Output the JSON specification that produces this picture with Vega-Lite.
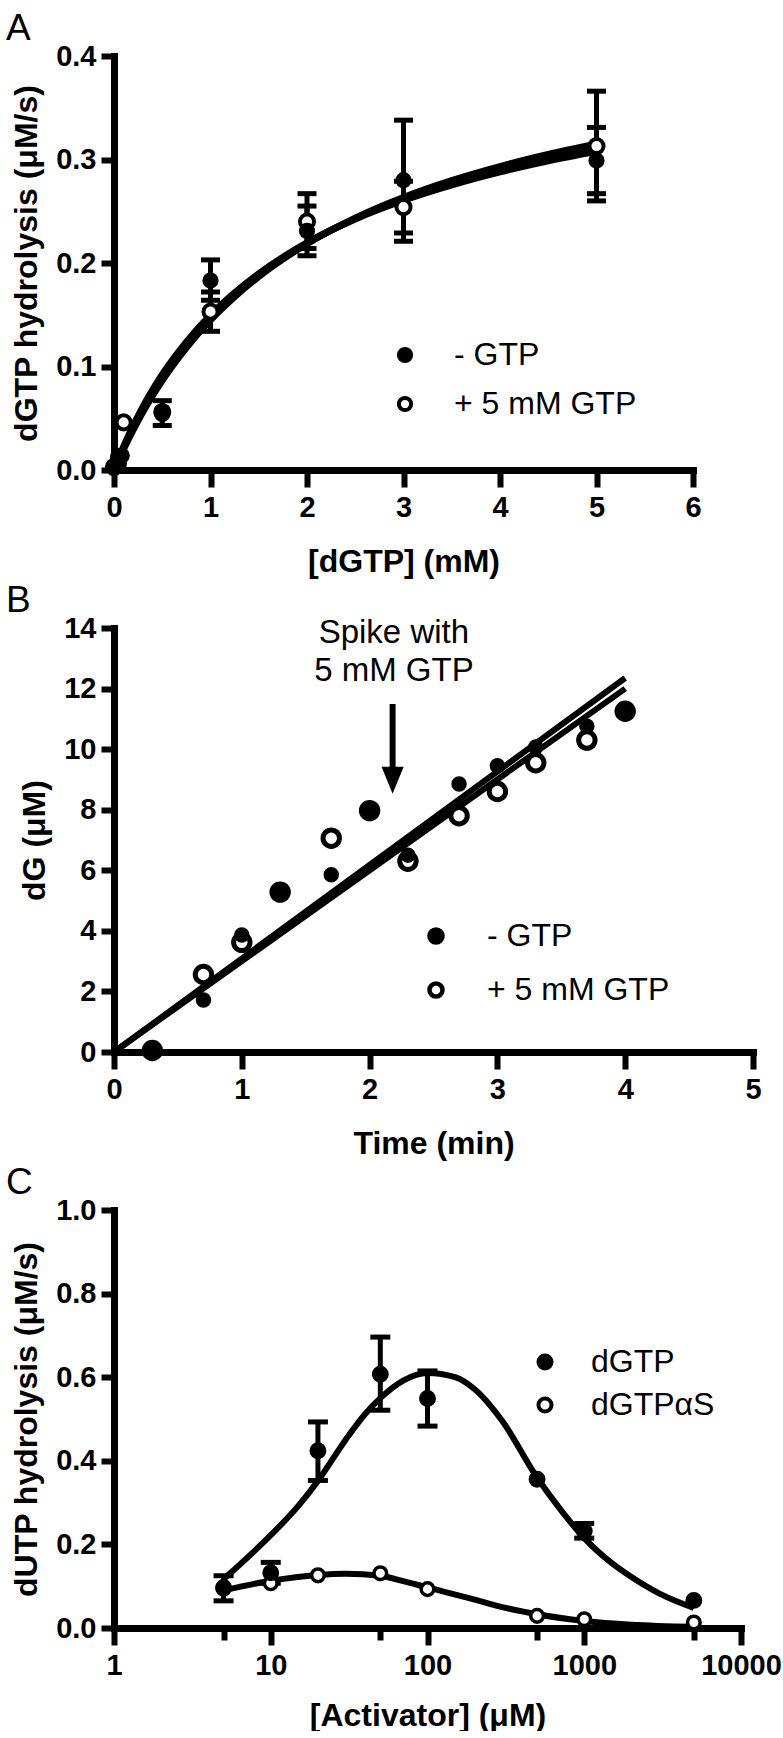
{
  "$schema": "https://vega.github.io/schema/vega-lite/v6.json",
  "background": "white",
  "padding": {"left": 6, "top": 10, "right": 0, "bottom": 0},
  "bounds": "flush",
  "spacing": 158,
  "datasets": {
    "A_pts": [
      {"dGTP": 0, "rate": 0.003, "series": "+ 5 mM GTP"},
      {"dGTP": 0.05, "rate": 0.012, "series": "+ 5 mM GTP"},
      {"dGTP": 0.1, "rate": 0.046, "series": "+ 5 mM GTP"},
      {"dGTP": 0.5, "rate": 0.056, "series": "+ 5 mM GTP"},
      {"dGTP": 1, "rate": 0.153, "series": "+ 5 mM GTP"},
      {"dGTP": 2, "rate": 0.24, "series": "+ 5 mM GTP"},
      {"dGTP": 3, "rate": 0.254, "series": "+ 5 mM GTP"},
      {"dGTP": 5, "rate": 0.313, "series": "+ 5 mM GTP"},
      {"dGTP": 0, "rate": 0.002, "series": "- GTP"},
      {"dGTP": 0.05, "rate": 0.006, "series": "- GTP"},
      {"dGTP": 0.08, "rate": 0.014, "series": "- GTP"},
      {"dGTP": 0.5, "rate": 0.054, "series": "- GTP"},
      {"dGTP": 1, "rate": 0.183, "series": "- GTP"},
      {"dGTP": 2, "rate": 0.231, "series": "- GTP"},
      {"dGTP": 3, "rate": 0.28, "series": "- GTP"},
      {"dGTP": 5, "rate": 0.299, "series": "- GTP"}
    ],
    "A_err": [
      {"dGTP": 0.5, "lo": 0.043, "hi": 0.067},
      {"dGTP": 1, "lo": 0.164, "hi": 0.203},
      {"dGTP": 1, "lo": 0.134, "hi": 0.172},
      {"dGTP": 2, "lo": 0.207, "hi": 0.255},
      {"dGTP": 2, "lo": 0.214, "hi": 0.267},
      {"dGTP": 3, "lo": 0.221, "hi": 0.338},
      {"dGTP": 3, "lo": 0.229, "hi": 0.279},
      {"dGTP": 5, "lo": 0.267, "hi": 0.331},
      {"dGTP": 5, "lo": 0.26, "hi": 0.366}
    ],
    "A_fit": [
      {"dGTP": 0, "rate": 0, "fit": "a"},
      {"dGTP": 0.1, "rate": 0.0205, "fit": "a"},
      {"dGTP": 0.25, "rate": 0.048, "fit": "a"},
      {"dGTP": 0.5, "rate": 0.0866, "fit": "a"},
      {"dGTP": 0.75, "rate": 0.1183, "fit": "a"},
      {"dGTP": 1, "rate": 0.145, "fit": "a"},
      {"dGTP": 1.25, "rate": 0.1675, "fit": "a"},
      {"dGTP": 1.5, "rate": 0.187, "fit": "a"},
      {"dGTP": 2, "rate": 0.2187, "fit": "a"},
      {"dGTP": 2.5, "rate": 0.2434, "fit": "a"},
      {"dGTP": 3, "rate": 0.2633, "fit": "a"},
      {"dGTP": 3.5, "rate": 0.2796, "fit": "a"},
      {"dGTP": 4, "rate": 0.2932, "fit": "a"},
      {"dGTP": 4.5, "rate": 0.3048, "fit": "a"},
      {"dGTP": 5, "rate": 0.3147, "fit": "a"},
      {"dGTP": 0, "rate": 0, "fit": "b"},
      {"dGTP": 0.1, "rate": 0.0225, "fit": "b"},
      {"dGTP": 0.25, "rate": 0.052, "fit": "b"},
      {"dGTP": 0.5, "rate": 0.092, "fit": "b"},
      {"dGTP": 0.75, "rate": 0.1235, "fit": "b"},
      {"dGTP": 1, "rate": 0.1495, "fit": "b"},
      {"dGTP": 1.25, "rate": 0.171, "fit": "b"},
      {"dGTP": 1.5, "rate": 0.1895, "fit": "b"},
      {"dGTP": 2, "rate": 0.2195, "fit": "b"},
      {"dGTP": 2.5, "rate": 0.2425, "fit": "b"},
      {"dGTP": 3, "rate": 0.2606, "fit": "b"},
      {"dGTP": 3.5, "rate": 0.2755, "fit": "b"},
      {"dGTP": 4, "rate": 0.2881, "fit": "b"},
      {"dGTP": 4.5, "rate": 0.2988, "fit": "b"},
      {"dGTP": 5, "rate": 0.308, "fit": "b"}
    ],
    "B_pts": [
      {"time": 0.3, "dG": 0.05, "series": "+ 5 mM GTP"},
      {"time": 0.7, "dG": 2.56, "series": "+ 5 mM GTP"},
      {"time": 1.0, "dG": 3.62, "series": "+ 5 mM GTP"},
      {"time": 1.3, "dG": 5.28, "series": "+ 5 mM GTP"},
      {"time": 1.7, "dG": 7.06, "series": "+ 5 mM GTP"},
      {"time": 2.0, "dG": 7.97, "series": "+ 5 mM GTP"},
      {"time": 2.3, "dG": 6.3, "series": "+ 5 mM GTP"},
      {"time": 2.7, "dG": 7.8, "series": "+ 5 mM GTP"},
      {"time": 3.0, "dG": 8.6, "series": "+ 5 mM GTP"},
      {"time": 3.3, "dG": 9.55, "series": "+ 5 mM GTP"},
      {"time": 3.7, "dG": 10.3, "series": "+ 5 mM GTP"},
      {"time": 4.0, "dG": 11.25, "series": "+ 5 mM GTP"},
      {"time": 0.3, "dG": 0.05, "series": "- GTP"},
      {"time": 0.7, "dG": 1.72, "series": "- GTP"},
      {"time": 1.0, "dG": 3.86, "series": "- GTP"},
      {"time": 1.3, "dG": 5.28, "series": "- GTP"},
      {"time": 1.7, "dG": 5.85, "series": "- GTP"},
      {"time": 2.0, "dG": 7.97, "series": "- GTP"},
      {"time": 2.3, "dG": 6.5, "series": "- GTP"},
      {"time": 2.7, "dG": 8.85, "series": "- GTP"},
      {"time": 3.0, "dG": 9.45, "series": "- GTP"},
      {"time": 3.3, "dG": 10.07, "series": "- GTP"},
      {"time": 3.7, "dG": 10.76, "series": "- GTP"},
      {"time": 4.0, "dG": 11.25, "series": "- GTP"}
    ],
    "B_fit": [
      {"time": 0, "dG": 0, "fit": "a"},
      {"time": 4, "dG": 12.35, "fit": "a"},
      {"time": 0, "dG": 0, "fit": "b"},
      {"time": 4, "dG": 12.0, "fit": "b"}
    ],
    "B_arrow": [
      {"time": 2.18, "top": 11.49, "bottom": 9.2, "tip": 8.97}
    ],
    "B_note": [
      {"time": 2.19, "dG": 13.5, "label": "Spike with"},
      {"time": 2.19, "dG": 12.25, "label": "5 mM GTP"}
    ],
    "C_pts": [
      {"conc": 5, "rate": 0.098, "series": "dGTPαS"},
      {"conc": 10, "rate": 0.107, "series": "dGTPαS"},
      {"conc": 20, "rate": 0.126, "series": "dGTPαS"},
      {"conc": 50, "rate": 0.131, "series": "dGTPαS"},
      {"conc": 100, "rate": 0.093, "series": "dGTPαS"},
      {"conc": 500, "rate": 0.029, "series": "dGTPαS"},
      {"conc": 1000, "rate": 0.021, "series": "dGTPαS"},
      {"conc": 5000, "rate": 0.013, "series": "dGTPαS"},
      {"conc": 5, "rate": 0.095, "series": "dGTP"},
      {"conc": 10, "rate": 0.132, "series": "dGTP"},
      {"conc": 20, "rate": 0.424, "series": "dGTP"},
      {"conc": 50, "rate": 0.607, "series": "dGTP"},
      {"conc": 100, "rate": 0.549, "series": "dGTP"},
      {"conc": 500, "rate": 0.356, "series": "dGTP"},
      {"conc": 1000, "rate": 0.232, "series": "dGTP"},
      {"conc": 5000, "rate": 0.066, "series": "dGTP"}
    ],
    "C_err": [
      {"conc": 5, "lo": 0.065, "hi": 0.125},
      {"conc": 10, "lo": 0.107, "hi": 0.157},
      {"conc": 20, "lo": 0.353, "hi": 0.493},
      {"conc": 50, "lo": 0.521, "hi": 0.696},
      {"conc": 100, "lo": 0.483, "hi": 0.615},
      {"conc": 1000, "lo": 0.215, "hi": 0.25}
    ],
    "C_fit": [
      {"conc": 5, "rate": 0.117, "fit": "a"},
      {"conc": 10, "rate": 0.222, "fit": "a"},
      {"conc": 15, "rate": 0.292, "fit": "a"},
      {"conc": 20, "rate": 0.352, "fit": "a"},
      {"conc": 30, "rate": 0.45, "fit": "a"},
      {"conc": 40, "rate": 0.512, "fit": "a"},
      {"conc": 50, "rate": 0.55, "fit": "a"},
      {"conc": 70, "rate": 0.592, "fit": "a"},
      {"conc": 100, "rate": 0.61, "fit": "a"},
      {"conc": 150, "rate": 0.6, "fit": "a"},
      {"conc": 200, "rate": 0.571, "fit": "a"},
      {"conc": 300, "rate": 0.495, "fit": "a"},
      {"conc": 500, "rate": 0.36, "fit": "a"},
      {"conc": 700, "rate": 0.285, "fit": "a"},
      {"conc": 1000, "rate": 0.215, "fit": "a"},
      {"conc": 1500, "rate": 0.155, "fit": "a"},
      {"conc": 2000, "rate": 0.122, "fit": "a"},
      {"conc": 3000, "rate": 0.083, "fit": "a"},
      {"conc": 5000, "rate": 0.048, "fit": "a"},
      {"conc": 5, "rate": 0.09, "fit": "b"},
      {"conc": 10, "rate": 0.113, "fit": "b"},
      {"conc": 20, "rate": 0.127, "fit": "b"},
      {"conc": 30, "rate": 0.13, "fit": "b"},
      {"conc": 50, "rate": 0.125, "fit": "b"},
      {"conc": 70, "rate": 0.112, "fit": "b"},
      {"conc": 100, "rate": 0.097, "fit": "b"},
      {"conc": 200, "rate": 0.068, "fit": "b"},
      {"conc": 300, "rate": 0.05, "fit": "b"},
      {"conc": 500, "rate": 0.033, "fit": "b"},
      {"conc": 1000, "rate": 0.017, "fit": "b"},
      {"conc": 2000, "rate": 0.008, "fit": "b"},
      {"conc": 5000, "rate": 0.003, "fit": "b"}
    ]
  },
  "vconcat": [
    {
      "width": 579,
      "height": 414,
      "title": {"text": "A"},
      "encoding": {
        "x": {"field": "dGTP", "type": "quantitative", "title": "[dGTP] (mM)",
              "scale": {"domain": [0, 6], "nice": false, "zero": false},
              "axis": {"values": [0, 1, 2, 3, 4, 5, 6], "format": "d"}}
      },
      "layer": [
        {
          "data": {"name": "A_err"},
          "mark": {"type": "rule", "strokeWidth": 5, "color": "black"},
          "encoding": {
            "y": {"field": "lo", "type": "quantitative", "title": "dGTP hydrolysis (μM/s)",
                  "scale": {"domain": [0, 0.4], "nice": false},
                  "axis": {"values": [0, 0.1, 0.2, 0.3, 0.4], "format": ".1f"}},
            "y2": {"field": "hi"}
          }
        },
        {
          "data": {"name": "A_err"},
          "mark": {"type": "tick", "orient": "horizontal", "size": 19, "thickness": 5, "color": "black", "opacity": 1},
          "encoding": {"y": {"field": "hi", "type": "quantitative", "title": "dGTP hydrolysis (μM/s)"}}
        },
        {
          "data": {"name": "A_err"},
          "mark": {"type": "tick", "orient": "horizontal", "size": 19, "thickness": 5, "color": "black", "opacity": 1},
          "encoding": {"y": {"field": "lo", "type": "quantitative", "title": "dGTP hydrolysis (μM/s)"}}
        },
        {
          "data": {"name": "A_fit"},
          "mark": {"type": "line", "strokeWidth": 7, "color": "black", "interpolate": "monotone"},
          "encoding": {
            "y": {"field": "rate", "type": "quantitative", "title": "dGTP hydrolysis (μM/s)"},
            "detail": {"field": "fit"}
          }
        },
        {
          "data": {"name": "A_pts"},
          "transform": [{"filter": "datum.series == '+ 5 mM GTP'"}],
          "mark": {"type": "point", "filled": false, "stroke": "black", "strokeWidth": 4, "opacity": 1, "shape": "circle", "size": 200},
          "encoding": {
            "y": {"field": "rate", "type": "quantitative", "title": "dGTP hydrolysis (μM/s)"},
            "fill": {"field": "series", "type": "nominal",
                     "scale": {"domain": ["- GTP", "+ 5 mM GTP"], "range": ["black", "white"]},
                     "legend": {"orient": "none", "legendX": 275, "legendY": 283, "title": null, "rowPadding": 17, "labelOffset": 33,
                                "symbolSize": 150, "symbolStrokeColor": "black", "symbolStrokeWidth": 4,
                                "encode": {"symbols": {"update": {"stroke": {"value": "black"}, "strokeWidth": {"value": 4}}}}}}
          }
        },
        {
          "data": {"name": "A_pts"},
          "transform": [{"filter": "datum.series == '- GTP'"}],
          "mark": {"type": "point", "filled": false, "stroke": "black", "strokeWidth": 4, "opacity": 1, "shape": "circle", "size": 150},
          "encoding": {
            "y": {"field": "rate", "type": "quantitative", "title": "dGTP hydrolysis (μM/s)"},
            "fill": {"field": "series", "type": "nominal"}
          }
        }
      ]
    },
    {
      "width": 639,
      "height": 424,
      "title": {"text": "B"},
      "encoding": {
        "x": {"field": "time", "type": "quantitative", "title": "Time (min)",
              "scale": {"domain": [0, 5], "nice": false, "zero": false},
              "axis": {"values": [0, 1, 2, 3, 4, 5], "format": "d"}}
      },
      "layer": [
        {
          "data": {"name": "B_fit"},
          "mark": {"type": "line", "strokeWidth": 6, "color": "black"},
          "encoding": {
            "y": {"field": "dG", "type": "quantitative", "title": "dG (μM)",
                  "scale": {"domain": [0, 14], "nice": false},
                  "axis": {"values": [0, 2, 4, 6, 8, 10, 12, 14], "format": "d"}},
            "detail": {"field": "fit"}
          }
        },
        {
          "data": {"name": "B_arrow"},
          "mark": {"type": "rule", "strokeWidth": 6, "color": "black"},
          "encoding": {
            "y": {"field": "top", "type": "quantitative", "title": "dG (μM)"},
            "y2": {"field": "bottom"}
          }
        },
        {
          "data": {"name": "B_arrow"},
          "mark": {"type": "point", "shape": "M-0.82,-1L0.82,-1L0,1Z", "size": 729, "filled": true, "color": "black", "opacity": 1, "strokeWidth": 0},
          "encoding": {
            "y": {"field": "tip", "type": "quantitative", "title": "dG (μM)"}
          }
        },
        {
          "data": {"name": "B_note"},
          "mark": {"type": "text", "fontSize": 33, "font": "Liberation Sans", "align": "center", "baseline": "alphabetic", "color": "black"},
          "encoding": {
            "y": {"field": "dG", "type": "quantitative", "title": "dG (μM)"},
            "text": {"field": "label"}
          }
        },
        {
          "data": {"name": "B_pts"},
          "transform": [{"filter": "datum.series == '+ 5 mM GTP'"}],
          "mark": {"type": "point", "filled": false, "stroke": "black", "strokeWidth": 5, "opacity": 1, "shape": "circle", "size": 270},
          "encoding": {
            "y": {"field": "dG", "type": "quantitative", "title": "dG (μM)"},
            "fill": {"field": "series", "type": "nominal",
                     "scale": {"domain": ["- GTP", "+ 5 mM GTP"], "range": ["black", "white"]},
                     "legend": {"orient": "none", "legendX": 306, "legendY": 292, "title": null, "rowPadding": 22, "labelOffset": 35,
                                "symbolSize": 170, "symbolStrokeColor": "black", "symbolStrokeWidth": 4.5,
                                "encode": {"symbols": {"update": {"stroke": {"value": "black"}, "strokeWidth": {"value": 4.5}}}}}}
          }
        },
        {
          "data": {"name": "B_pts"},
          "transform": [{"filter": "datum.series == '- GTP'"}],
          "mark": {"type": "point", "filled": false, "stroke": "black", "strokeWidth": 5, "opacity": 1, "shape": "circle", "size": 110},
          "encoding": {
            "y": {"field": "dG", "type": "quantitative", "title": "dG (μM)"},
            "fill": {"field": "series", "type": "nominal"}
          }
        }
      ]
    },
    {
      "width": 627,
      "height": 418,
      "title": {"text": "C"},
      "encoding": {
        "x": {"field": "conc", "type": "quantitative", "title": "[Activator] (μM)",
              "scale": {"type": "log", "domain": [1, 10000], "nice": false},
              "axis": {"values": [1, 5, 10, 50, 100, 500, 1000, 5000, 10000], "labelOverlap": false, "titlePadding": 20,
                       "labelExpr": "(datum.value == 1 || datum.value == 10 || datum.value == 100 || datum.value == 1000 || datum.value == 10000) ? format(datum.value, 'd') : ''",
                       "tickSize": {"condition": {"test": "datum.value == 5 || datum.value == 50 || datum.value == 500 || datum.value == 5000", "value": 12}, "value": 17}}}
      },
      "layer": [
        {
          "data": {"name": "C_err"},
          "mark": {"type": "rule", "strokeWidth": 5, "color": "black"},
          "encoding": {
            "y": {"field": "lo", "type": "quantitative", "title": "dUTP hydrolysis (μM/s)",
                  "scale": {"domain": [0, 1], "nice": false},
                  "axis": {"values": [0, 0.2, 0.4, 0.6, 0.8, 1.0], "format": ".1f"}},
            "y2": {"field": "hi"}
          }
        },
        {
          "data": {"name": "C_err"},
          "mark": {"type": "tick", "orient": "horizontal", "size": 20, "thickness": 5, "color": "black", "opacity": 1},
          "encoding": {"y": {"field": "hi", "type": "quantitative", "title": "dUTP hydrolysis (μM/s)"}}
        },
        {
          "data": {"name": "C_err"},
          "mark": {"type": "tick", "orient": "horizontal", "size": 20, "thickness": 5, "color": "black", "opacity": 1},
          "encoding": {"y": {"field": "lo", "type": "quantitative", "title": "dUTP hydrolysis (μM/s)"}}
        },
        {
          "data": {"name": "C_fit"},
          "mark": {"type": "line", "strokeWidth": 6, "color": "black", "interpolate": "monotone"},
          "encoding": {
            "y": {"field": "rate", "type": "quantitative", "title": "dUTP hydrolysis (μM/s)"},
            "detail": {"field": "fit"}
          }
        },
        {
          "data": {"name": "C_pts"},
          "transform": [{"filter": "datum.series == 'dGTPαS'"}],
          "mark": {"type": "point", "filled": false, "stroke": "black", "strokeWidth": 3.5, "opacity": 1, "shape": "circle", "size": 160},
          "encoding": {
            "y": {"field": "rate", "type": "quantitative", "title": "dUTP hydrolysis (μM/s)"},
            "fill": {"field": "series", "type": "nominal",
                     "scale": {"domain": ["dGTP", "dGTPαS"], "range": ["black", "white"]},
                     "legend": {"orient": "none", "legendX": 415, "legendY": 136, "title": null, "rowPadding": 11, "labelOffset": 30,
                                "symbolSize": 170, "symbolStrokeColor": "black", "symbolStrokeWidth": 4,
                                "encode": {"symbols": {"update": {"stroke": {"value": "black"}, "strokeWidth": {"value": 4}}}}}}
          }
        },
        {
          "data": {"name": "C_pts"},
          "transform": [{"filter": "datum.series == 'dGTP'"}],
          "mark": {"type": "point", "filled": false, "stroke": "black", "strokeWidth": 3.5, "opacity": 1, "shape": "circle", "size": 180},
          "encoding": {
            "y": {"field": "rate", "type": "quantitative", "title": "dUTP hydrolysis (μM/s)"},
            "fill": {"field": "series", "type": "nominal"}
          }
        }
      ]
    }
  ],
  "resolve": {
    "scale": {"fill": "independent"},
    "legend": {"fill": "independent"}
  },
  "config": {
    "view": {"stroke": null},
    "font": "Liberation Sans",
    "axis": {
      "grid": false,
      "domainColor": "black",
      "domainWidth": 7,
      "domainCap": "square",
      "tickColor": "black",
      "tickWidth": 6,
      "labelColor": "black",
      "labelFont": "Liberation Sans",
      "labelFontWeight": "bold",
      "labelFontSize": 29,
      "labelFlush": false,
      "titleFont": "Liberation Sans",
      "titleFontWeight": "bold",
      "titleFontSize": 32,
      "titleColor": "black"
    },
    "axisX": {"tickSize": 17, "labelPadding": 6, "titlePadding": 24},
    "axisY": {"tickSize": 13, "labelPadding": 5, "titlePadding": 12},
    "title": {"fontSize": 37, "font": "Liberation Sans", "fontWeight": "normal", "anchor": "start", "frame": "group", "dx": -108, "baseline": "alphabetic", "offset": -6, "color": "black"},
    "legend": {
      "padding": 0,
      "labelFont": "Liberation Sans",
      "labelFontSize": 32,
      "labelColor": "black",
      "labelFontWeight": "normal",
      "labelLimit": 500,
      "symbolStrokeColor": "black",
      "symbolStrokeWidth": 3.5,
      "symbolType": "circle",
      "labelOffset": 38,
      "rowPadding": 12
    }
  }
}
